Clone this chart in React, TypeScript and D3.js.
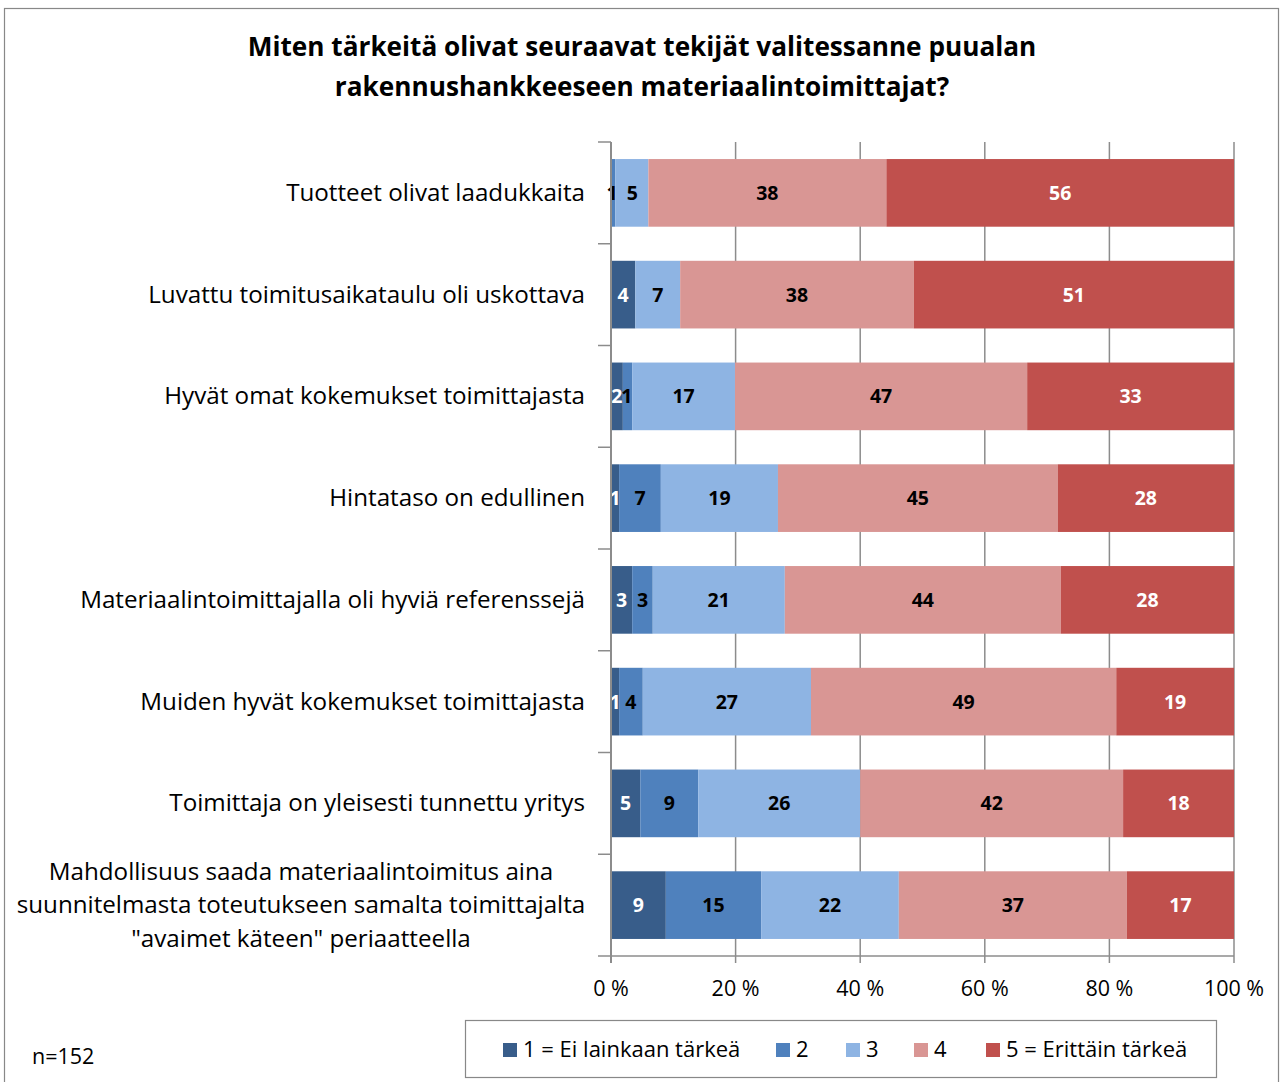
import React from "react";
import * as d3 from "d3";

const title = [
  "Miten tärkeitä olivat seuraavat tekijät valitessanne puualan",
  "rakennushankkeeseen materiaalintoimittajat?",
];
const categories = [
  ["Tuotteet olivat laadukkaita"],
  ["Luvattu toimitusaikataulu oli uskottava"],
  ["Hyvät omat kokemukset toimittajasta"],
  ["Hintataso on edullinen"],
  ["Materiaalintoimittajalla oli hyviä referenssejä"],
  ["Muiden hyvät kokemukset toimittajasta"],
  ["Toimittaja on yleisesti tunnettu yritys"],
  [
    "Mahdollisuus saada materiaalintoimitus aina",
    "suunnitelmasta toteutukseen samalta toimittajalta",
    '"avaimet käteen" periaatteella',
  ],
];
const seriesNames = ["1 = Ei lainkaan tärkeä", "2", "3", "4", "5 = Erittäin tärkeä"];
// percentages per category, series 1..5
const s1 = [0, 3.9, 1.9, 1.3, 3.4, 1.3, 4.7, 8.8];
const s2 = [0.7, 0, 1.5, 6.7, 3.3, 3.8, 9.3, 15.3];
const s3 = [5.3, 7.2, 16.5, 18.8, 21.2, 27.0, 26.0, 22.1];
const s4 = [38.2, 37.5, 46.9, 44.9, 44.3, 49.0, 42.2, 36.6];
const s5 = [55.8, 51.4, 33.2, 28.3, 27.8, 18.9, 17.8, 17.2];
// labels shown on the bars
const l1 = [null, 4, 2, 1, 3, 1, 5, 9];
const l2 = [1, null, 1, 7, 3, 4, 9, 15];
const l3 = [5, 7, 17, 19, 21, 27, 26, 22];
const l4 = [38, 38, 47, 45, 44, 49, 42, 37];
const l5 = [56, 51, 33, 28, 28, 19, 18, 17];
const xTicks = [0, 20, 40, 60, 80, 100];
const note = "n=152";

const colors = ["#385D8A", "#4F81BD", "#8EB4E3", "#D99694", "#C0504D"];
const labelColors = ["#FFFFFF", "#000000", "#000000", "#000000", "#FFFFFF"];

export default function App() {
  const W = 1281;
  const H = 1082;
  const x0 = 611;
  const x1 = 1234;
  const y0 = 142;
  const y1 = 956;
  const x = d3.scaleLinear().domain([0, 100]).range([x0, x1]);
  const idx = categories.map((_, i) => String(i));
  const y = d3.scaleBand().domain(idx).range([y0, y1]).paddingInner(0.335).paddingOuter(0.1675);
  const series = [s1, s2, s3, s4, s5];
  const labels = [l1, l2, l3, l4, l5];
  const stackData = categories.map((_, i) => {
    const o: any = {};
    series.forEach((s, k) => (o["k" + k] = s[i]));
    return o;
  });
  const stack = d3.stack().keys(series.map((_, k) => "k" + k))(stackData as any);
  const font = "'Open Sans', Calibri, sans-serif";
  const bandStep = y.step();

  const legendX = [503, 776, 846, 914, 986];

  return (
    <svg width={W} height={H} style={{ position: "absolute", left: 0, top: 0 }} fontFamily={font}>
      <rect x={0} y={0} width={W} height={H} fill="#fff" />
      <rect x={4.5} y={8.5} width={1274} height={1080} fill="none" stroke="#888" strokeWidth={1.2} />
      {title.map((t, i) => (
        <text key={i} x={642} y={56 + i * 40} textAnchor="middle" fontSize={26.2} fontWeight="bold" fill="#000">
          {t}
        </text>
      ))}
      {/* gridlines */}
      {xTicks.map((t) => (
        <line key={t} x1={x(t)} x2={x(t)} y1={y0} y2={y1} stroke="#8c8c8c" strokeWidth={1.5} />
      ))}
      {/* bars */}
      {stack.map((layer, k) =>
        layer.map((d, i) => (
          <rect
            key={k + "-" + i}
            x={x(d[0])}
            y={y(String(i))}
            width={Math.max(0, x(d[1]) - x(d[0]))}
            height={y.bandwidth()}
            fill={colors[k]}
          />
        ))
      )}
      {/* bar labels */}
      {stack.map((layer, k) =>
        layer.map((d, i) => {
          const lab = labels[k][i];
          if (lab === null) return null;
          let cx = (x(d[0]) + x(d[1])) / 2;
          if (i === 0 && k === 1) cx = x(d[0]) + 1;
          if (i === 0 && k === 2) cx = x(d[0]) + 17;
          if (i === 2 && k === 1) cx = x(d[0]) + 4;
          return (
            <text
              key={"l" + k + "-" + i}
              x={cx}
              y={(y(String(i)) as number) + y.bandwidth() / 2 + 7}
              textAnchor="middle"
              fontSize={19.5}
              fontWeight="bold"
              fill={labelColors[k]}
            >
              {lab}
            </text>
          );
        })
      )}
      {/* y axis */}
      <line x1={x0} x2={x0} y1={y0} y2={y1 + 7} stroke="#8c8c8c" strokeWidth={2} />
      {d3.range(categories.length + 1).map((i) => (
        <line key={"yt" + i} x1={x0 - 13} x2={x0} y1={y0 + i * bandStep} y2={y0 + i * bandStep} stroke="#8c8c8c" strokeWidth={1.5} />
      ))}
      {/* x axis */}
      <line x1={x0} x2={x1} y1={y1} y2={y1} stroke="#8c8c8c" strokeWidth={1.5} />
      {xTicks.map((t) => (
        <g key={"xt" + t}>
          <line x1={x(t)} x2={x(t)} y1={y1} y2={y1 + 7} stroke="#8c8c8c" strokeWidth={1.5} />
          <text x={x(t)} y={y1 + 40} textAnchor="middle" fontSize={21.5} fill="#000">
            {t + " %"}
          </text>
        </g>
      ))}
      {/* category labels */}
      {categories.map((lines, i) => {
        const cy = (y(String(i)) as number) + y.bandwidth() / 2;
        const lh = 33.5;
        return lines.map((ln, j) => (
          <text
            key={"c" + i + "-" + j}
            x={lines.length > 1 ? 301 : 585}
            y={cy + 8 + (j - (lines.length - 1) / 2) * lh}
            textAnchor={lines.length > 1 ? "middle" : "end"}
            fontSize={24.2}
            fill="#000"
          >
            {ln}
          </text>
        ));
      })}
      {/* legend */}
      <rect x={465.5} y={1020.5} width={751} height={57} fill="#fff" stroke="#888" strokeWidth={1.2} />
      {seriesNames.map((n, k) => (
        <g key={"lg" + k}>
          <rect x={legendX[k]} y={1043} width={14} height={14} fill={colors[k]} />
          <text x={legendX[k] + 20} y={1057} fontSize={22} fill="#000">
            {n}
          </text>
        </g>
      ))}
      <text x={32} y={1064} fontSize={21.5} fill="#000">
        {note}
      </text>
    </svg>
  );
}
